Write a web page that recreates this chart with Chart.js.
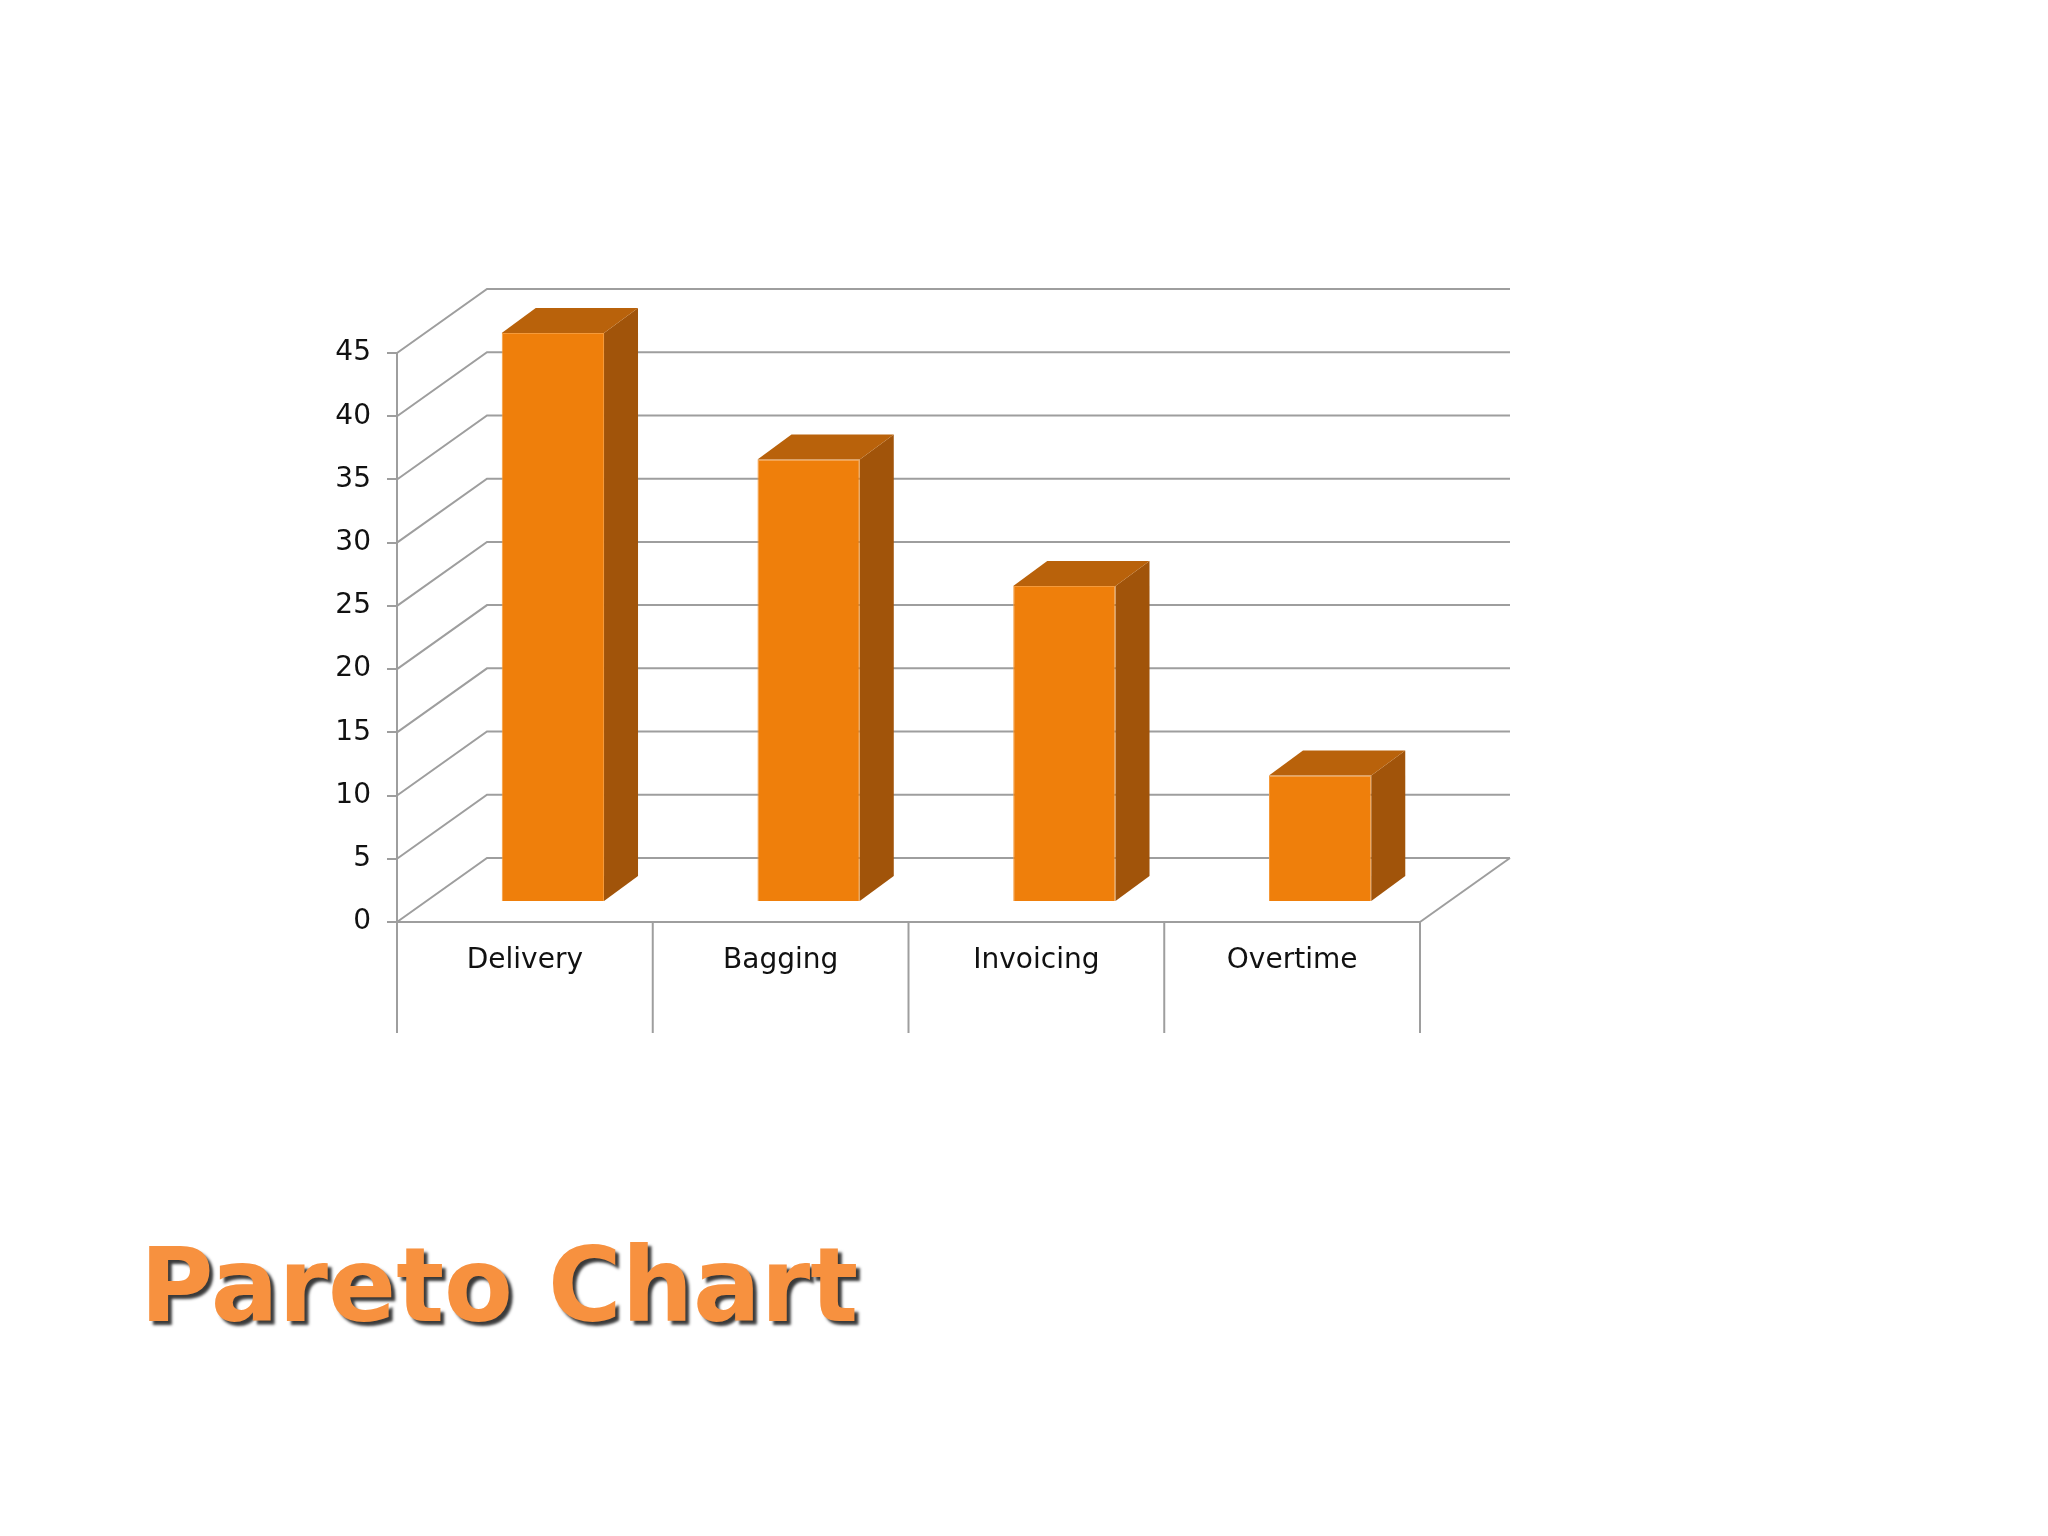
<!DOCTYPE html>
<html>
<head>
<meta charset="utf-8">
<script src="https://cdn.jsdelivr.net/npm/chart.js@4.4.1/dist/chart.umd.min.js"></script>
<style>
  html, body { margin: 0; padding: 0; background: #fff; }
  #wrap { position: relative; width: 2048px; height: 1536px; }
  #title {
    position: absolute; left: 140px; top: 1233px; margin: 0;
    font-family: "DejaVu Sans", Verdana, sans-serif; font-weight: bold;
    font-size: 104px; line-height: 1; color: #f7913f;
    text-shadow: 4px 4px 3px #3a3a3a;
    transform: scaleX(0.965); transform-origin: left top;
  }
</style>
</head>
<body>
<div id="wrap">
  <canvas id="paretoChart" width="2048" height="1536"></canvas>
  <div id="title">Pareto Chart</div>
</div>
<script>
const categories = ["Delivery", "Bagging", "Invoicing", "Overtime"];
const counts = [45, 35, 25, 10];
const yTicks = [0, 5, 10, 15, 20, 25, 30, 35, 40, 45];

const gridColor = "#9e9e9e";
const frontColor = "#ef7f0b";
const sideColor = "#a1540a";
const topColor = "#b9620b";

// depth offsets for the fake 3d look
const wallDepth = { x: 90, y: -64 };
const barShift = { x: 28, y: -20 };
const barDepth = { x: 34, y: -25 };

const box3d = {
  id: "box3d",
  beforeDatasetsDraw(chart) {
    const ctx = chart.ctx;
    const yScale = chart.scales.y;
    const xScale = chart.scales.x;
    const area = chart.chartArea;
    ctx.save();
    ctx.strokeStyle = gridColor;
    ctx.lineWidth = 2;
    // side wall diagonals + back wall lines
    yTicks.forEach(v => {
      const py = yScale.getPixelForValue(v);
      ctx.beginPath();
      ctx.moveTo(area.left, py);
      ctx.lineTo(area.left + wallDepth.x, py + wallDepth.y);
      ctx.lineTo(area.right + wallDepth.x, py + wallDepth.y);
      ctx.stroke();
    });
    // floor right edge
    const y0 = yScale.getPixelForValue(0);
    ctx.beginPath();
    ctx.moveTo(area.right, y0);
    ctx.lineTo(area.right + wallDepth.x, y0 + wallDepth.y);
    ctx.stroke();
    // category dividers under the floor
    const half = (xScale.getPixelForValue(1) - xScale.getPixelForValue(0)) / 2;
    for (let i = 0; i <= categories.length; i++) {
      const px = xScale.getPixelForValue(Math.min(i, categories.length - 1)) + (i === categories.length ? half : -half);
      ctx.beginPath();
      ctx.moveTo(px, y0);
      ctx.lineTo(px, y0 + 111);
      ctx.stroke();
    }
    ctx.restore();

    ctx.save();
    ctx.translate(barShift.x, barShift.y);
  },
  afterDatasetsDraw(chart) {
    const ctx = chart.ctx;
    const meta = chart.getDatasetMeta(0);
    meta.data.forEach(bar => {
      const { x, y, base, width } = bar.getProps(["x", "y", "base", "width"], true);
      const l = x - width / 2, r = x + width / 2;
      ctx.fillStyle = sideColor;
      ctx.beginPath();
      ctx.moveTo(r, y);
      ctx.lineTo(r + barDepth.x, y + barDepth.y);
      ctx.lineTo(r + barDepth.x, base + barDepth.y);
      ctx.lineTo(r, base);
      ctx.closePath();
      ctx.fill();
      ctx.fillStyle = topColor;
      ctx.beginPath();
      ctx.moveTo(l, y);
      ctx.lineTo(l + barDepth.x, y + barDepth.y);
      ctx.lineTo(r + barDepth.x, y + barDepth.y);
      ctx.lineTo(r, y);
      ctx.closePath();
      ctx.fill();
    });
    ctx.restore();
  }
};

const ctx = document.getElementById("paretoChart").getContext("2d");
const chart = new Chart(ctx, {
  type: "bar",
  data: {
    labels: categories,
    datasets: [{
      label: "Count",
      data: counts,
      backgroundColor: frontColor,
      borderColor: "#f59a3a",
      borderWidth: 1,
      barPercentage: 0.4,
      categoryPercentage: 1,
      clip: false
    }]
  },
  options: {
    responsive: false,
    animation: false,
    layout: { padding: { left: 0, top: 353, right: 628, bottom: 514 } },
    plugins: { legend: { display: false }, tooltip: { enabled: false } },
    scales: {
      x: {
        afterFit: s => { s.height = 100; },
        grid: { display: false, drawTicks: false },
        border: { display: true, color: gridColor, width: 2 },
        ticks: { color: "#111", padding: 22, font: { family: "DejaVu Sans", size: 28 } }
      },
      y: {
        min: 0, max: 45,
        afterFit: s => { s.width = 397; },
        afterBuildTicks: s => { s.ticks = yTicks.map(v => ({ value: v })); },
        grid: { drawOnChartArea: false, drawTicks: true, tickLength: 10, color: gridColor, lineWidth: 2 },
        border: { display: true, color: gridColor, width: 2 },
        ticks: { color: "#111", padding: 16, font: { family: "DejaVu Sans", size: 28 } }
      }
    }
  },
  plugins: [box3d]
});
</script>
</body>
</html>
